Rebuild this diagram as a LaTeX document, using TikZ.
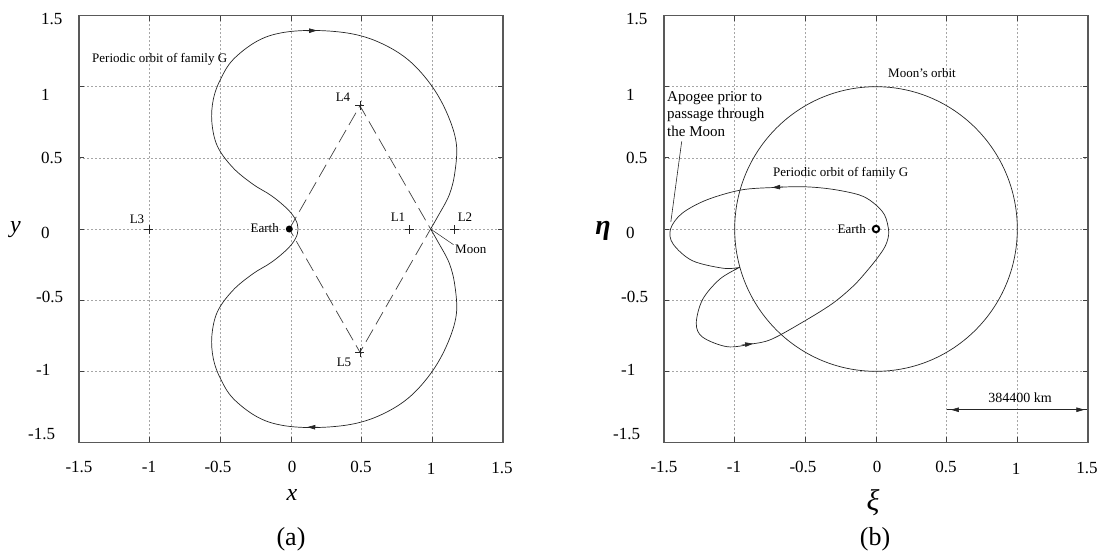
\documentclass[tikz,border=0pt]{standalone}
\usepackage{fontspec}
\setmainfont{Liberation Serif}
\usetikzlibrary{arrows.meta}
\begin{document}
\begin{tikzpicture}[x=1pt,y=-1pt,
  gridline/.style={draw=black!35, line width=0.5pt, dash pattern=on 2pt off 2pt},
  frame/.style={draw=black!65, line width=1.3pt},
  tickmark/.style={draw=black!75, line width=1pt},
  orbit/.style={draw=black!85, line width=0.7pt},
  dashline/.style={draw=black!75, line width=0.7pt, dash pattern=on 14pt off 6pt},
  ticklab/.style={inner sep=0pt, font=\fontsize{17}{17}\selectfont},
  lab/.style={inner sep=0pt, font=\fontsize{13}{13}\selectfont},
  head/.style={-{Triangle[length=8pt,width=4.5pt]}},
  crossline/.style={draw=black!85, line width=0.6pt},
  axlab/.style={inner sep=0pt, font=\fontsize{24}{24}\selectfont},
]
\useasboundingbox (0,0) rectangle (1106,554);

% ================= LEFT PANEL =================
\begin{scope}[shift={(291,229)},x=141.3pt,y=142.3pt]
  \foreach \v in {-1,-0.5,0,0.5,1} {
    \draw[gridline] (\v,-1.5) -- (\v,1.5);
    \draw[gridline] (-1.5,\v) -- (1.5,\v);
  }
  \foreach \v in {-1,-0.5,0,0.5,1} {
    \draw[tickmark] (\v,-1.5) -- ++(0,0.035) (\v,1.5) -- ++(0,-0.035)
                    (-1.5,\v) -- ++(0.035,0) (1.5,\v) -- ++(-0.035,0);
  }
  \draw[frame] (-1.5,-1.5) rectangle (1.5,1.5);

  \coordinate (EarthA) at (-0.012,0);
  \coordinate (L4) at (0.488,0.866);
  \coordinate (MoonA) at (0.988,0);
  \coordinate (L5) at (0.488,-0.866);
  \coordinate (L1) at (0.836,0);
  \coordinate (L2) at (1.155,0);
  \coordinate (L3) at (-1.005,0);
  \coordinate (moonlead) at (1.15,-0.11);

  \draw[orbit] plot[smooth, tension=0.6] coordinates {
    (0.988,0) (1.04,0.09) (1.12,0.24) (1.16,0.40) (1.17,0.60) (1.11,0.80)
    (1.0,1.0) (0.84,1.18) (0.65,1.30) (0.44,1.37) (0.18,1.395) (-0.06,1.38)
    (-0.24,1.32) (-0.41,1.19) (-0.5,1.05) (-0.55,0.91) (-0.56,0.75)
    (-0.52,0.58) (-0.41,0.43) (-0.27,0.315) (-0.14,0.235) (-0.03,0.145)
    (0.03,0.07) (0.05,0)
    (0.03,-0.07) (-0.03,-0.145) (-0.14,-0.235) (-0.27,-0.315) (-0.41,-0.43)
    (-0.52,-0.58) (-0.56,-0.75) (-0.55,-0.91) (-0.5,-1.05) (-0.41,-1.19)
    (-0.24,-1.32) (-0.06,-1.38) (0.18,-1.395) (0.44,-1.37) (0.65,-1.30)
    (0.84,-1.18) (1.0,-1.0) (1.11,-0.80) (1.17,-0.60) (1.16,-0.40)
    (1.12,-0.24) (1.04,-0.09) (0.988,0)};
  \draw[orbit, head] (0.11,1.393) -- (0.185,1.395);
  \draw[orbit, head] (0.20,-1.394) -- (0.115,-1.392);

  \draw[dashline] (EarthA) -- (L4) -- (MoonA) -- (L5) -- cycle;
\end{scope}

\foreach \c in {L1,L2,L3,L4,L5} {
  \draw[crossline] ([xshift=-4.5pt]\c) -- ([xshift=4.5pt]\c)
                   ([yshift=-4.5pt]\c) -- ([yshift=4.5pt]\c);
}
\node[circle, fill=black, inner sep=0pt, minimum size=7pt] (earthdotA) at (EarthA) {};
\draw[orbit, line width=0.5pt] (MoonA) -- (moonlead);

\node[lab, anchor=west] (famA) at (92,59) {Periodic orbit of family G};
\node[lab] (lL4) at (343,97) {L4};
\node[lab] (lL5) at (344,362) {L5};
\node[lab] (lL1) at (398,217) {L1};
\node[lab] (lL2) at (465,217) {L2};
\node[lab] (lL3) at (137,219) {L3};
\node[lab, anchor=east] (earthA) at (279,228) {Earth};
\node[lab, anchor=west] (moonA) at (455,249) {Moon};

% left tick labels
\node[ticklab, anchor=west] (ya1) at (41,19) {1.5};
\node[ticklab, anchor=west] (ya2) at (41,95) {1};
\node[ticklab, anchor=west] (ya3) at (41,158) {0.5};
\node[ticklab, anchor=west] (ya4) at (41,233) {0};
\node[ticklab, anchor=west] (ya5) at (36,297) {-0.5};
\node[ticklab, anchor=west] (ya6) at (36,370) {-1};
\node[ticklab, anchor=west] (ya7) at (28,434) {-1.5};
\node[ticklab] (xa1) at (79,467) {-1.5};
\node[ticklab] (xa2) at (149,467) {-1};
\node[ticklab] (xa3) at (218,467) {-0.5};
\node[ticklab] (xa4) at (292,467) {0};
\node[ticklab] (xa5) at (361,467) {0.5};
\node[ticklab] (xa6) at (431,469) {1};
\node[ticklab] (xa7) at (502,468) {1.5};
\node[axlab] (ylab) at (15.5,230) {\textit{y}};
\node[axlab] (xlab) at (292,495) {\textit{x}};
\node[axlab, font=\fontsize{26}{26}\selectfont] (capa) at (291,539) {(a)};

% ================= RIGHT PANEL =================
\begin{scope}[shift={(876,229)},x=141.3pt,y=142.3pt]
  \foreach \v in {-1,-0.5,0,0.5,1} {
    \draw[gridline] (\v,-1.5) -- (\v,1.5);
    \draw[gridline] (-1.5,\v) -- (1.5,\v);
  }
  \foreach \v in {-1,-0.5,0,0.5,1} {
    \draw[tickmark] (\v,-1.5) -- ++(0,0.035) (\v,1.5) -- ++(0,-0.035)
                    (-1.5,\v) -- ++(0.035,0) (1.5,\v) -- ++(-0.035,0);
  }
  \draw[frame] (-1.5,-1.5) rectangle (1.5,1.5);

  \coordinate (EarthB) at (0,0);
  \coordinate (apoA) at (-1.375,0.616);
  \coordinate (apoB) at (-1.452,0.05);
  \coordinate (sbL) at (0.5,-1.27);
  \coordinate (sbR) at (1.49,-1.27);
  \coordinate (sbLt) at (0.53,-1.27);
  \coordinate (sbRt) at (1.475,-1.27);

  \draw[orbit] (0,0) circle [radius=1];

  \draw[orbit] plot[smooth, tension=0.55] coordinates {
    (-0.963,-0.269) (-1.104,-0.351) (-1.227,-0.495) (-1.272,-0.663)
    (-1.227,-0.76) (-1.054,-0.827) (-0.88,-0.808) (-0.74,-0.775)
    (-0.52,-0.655) (-0.31,-0.525) (-0.16,-0.400) (-0.06,-0.29)
    (0.02,-0.19) (0.07,-0.11) (0.09,-0.02) (0.06,0.1) (-0.02,0.185)
    (-0.12,0.24) (-0.314,0.28) (-0.511,0.297) (-0.716,0.292)
    (-0.956,0.274) (-1.202,0.203) (-1.375,0.108) (-1.454,0)
    (-1.437,-0.104) (-1.301,-0.222) (-1.079,-0.276) (-0.963,-0.269)};
  \draw[orbit, head] (-0.66,0.295) -- (-0.735,0.292);
  \draw[orbit, head] (-0.95,-0.815) -- (-0.87,-0.806);

  \draw[orbit, line width=0.6pt] (sbL) -- (sbR);
\end{scope}

\draw[orbit, line width=0.6pt, {Triangle[length=8pt,width=4.5pt]}-{Triangle[length=8pt,width=4.5pt]}] (sbLt) -- (sbRt);
\node[circle, draw=black, line width=2pt, fill=white, inner sep=0pt, minimum size=6.5pt] (earthdotB) at (EarthB) {};
\draw[orbit, line width=0.6pt] (apoA) -- (apoB);

\node[lab, anchor=west] (famB) at (773,173) {Periodic orbit of family G};
\node[lab] (moonorb) at (922,73) {Moon's orbit};
\node[lab, anchor=east] (earthB) at (866,229) {Earth};
\node[inner sep=0pt, anchor=west, align=left, font=\fontsize{15}{17.5}\selectfont] (apolab) at (667,114)
  {Apogee prior to\\passage through\\the Moon};
\node[inner sep=0pt, font=\fontsize{14}{14}\selectfont] (sblab) at (1020,398) {384400 km};

% right tick labels
\node[ticklab, anchor=west] (yb1) at (626,19) {1.5};
\node[ticklab, anchor=west] (yb2) at (626,95) {1};
\node[ticklab, anchor=west] (yb3) at (626,158) {0.5};
\node[ticklab, anchor=west] (yb4) at (626,233) {0};
\node[ticklab, anchor=west] (yb5) at (621,297) {-0.5};
\node[ticklab, anchor=west] (yb6) at (621,370) {-1};
\node[ticklab, anchor=west] (yb7) at (613,434) {-1.5};
\node[ticklab] (xb1) at (664,467) {-1.5};
\node[ticklab] (xb2) at (734,467) {-1};
\node[ticklab] (xb3) at (803,467) {-0.5};
\node[ticklab] (xb4) at (877,467) {0};
\node[ticklab] (xb5) at (946,467) {0.5};
\node[ticklab] (xb6) at (1016,469) {1};
\node[ticklab] (xb7) at (1087,468) {1.5};
\node[axlab, font=\fontsize{28}{28}\selectfont] (etalab) at (603,231) {\textbf{\textit{η}}};
\node[axlab, font=\fontsize{30}{30}\selectfont] (xilab) at (873,503) {\textit{ξ}};
\node[axlab, font=\fontsize{26}{26}\selectfont] (capb) at (875,539) {(b)};
\end{tikzpicture}
\end{document}
